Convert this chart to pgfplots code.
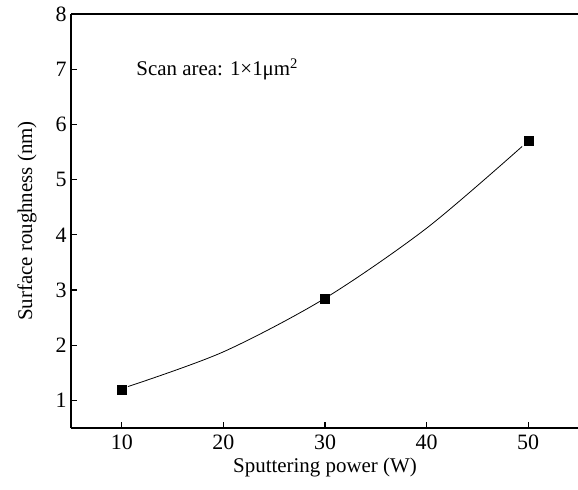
\documentclass[border=0pt]{standalone}
\usepackage{pgfplots}
\pgfplotsset{compat=1.18}
\usepackage{fontspec}
\setmainfont{Liberation Serif}
\begin{document}
\begin{tikzpicture}
\begin{axis}[
  at={(0,0)}, anchor=south west,
  scale only axis,
  width=508bp, height=414bp,
  xmin=5, xmax=55, ymin=0.5, ymax=8,
  axis x line=box, axis y line=left,
  x axis line style={-, line width=1.2pt},
  y axis line style={-, line width=1.2pt},
  xtick={10,20,30,40,50}, ytick={1,2,3,4,5,6,7,8},
  xtick pos=bottom, ytick pos=left,
  tick align=inside,
  major tick length=6bp,
  every tick/.style={black, line width=1.2pt},
  tick label style={font=\fontsize{22}{26}\selectfont},
  xticklabel style={yshift=-3bp},
  yticklabel style={xshift=-1bp},
  /pgf/number format/assume math mode=true,
  xlabel={Sputtering power (W)},
  ylabel={Surface roughness (nm)},
  label style={font=\fontsize{21}{25}\selectfont},
  xlabel style={yshift=-2bp},
  ylabel style={yshift=12bp},
  clip=false,
]
\addplot[black, line width=0.8pt, smooth, no marks] coordinates {
  (10.6,1.25) (20,1.88) (30,2.85) (40,4.12) (49.4,5.6)
};
\addplot[only marks, mark=square*, mark size=4.5bp, black] coordinates {
  (10,1.2) (30,2.85) (50,5.7)
};
\node[anchor=west, font=\fontsize{21}{25}\selectfont] at (axis cs:11.1,7) {Scan area: 1×1μm\textsuperscript{2}};
\end{axis}
\pgfresetboundingbox
\path[use as bounding box] (-71bp,-62bp) rectangle (507bp,428bp);
\end{tikzpicture}
\end{document}
